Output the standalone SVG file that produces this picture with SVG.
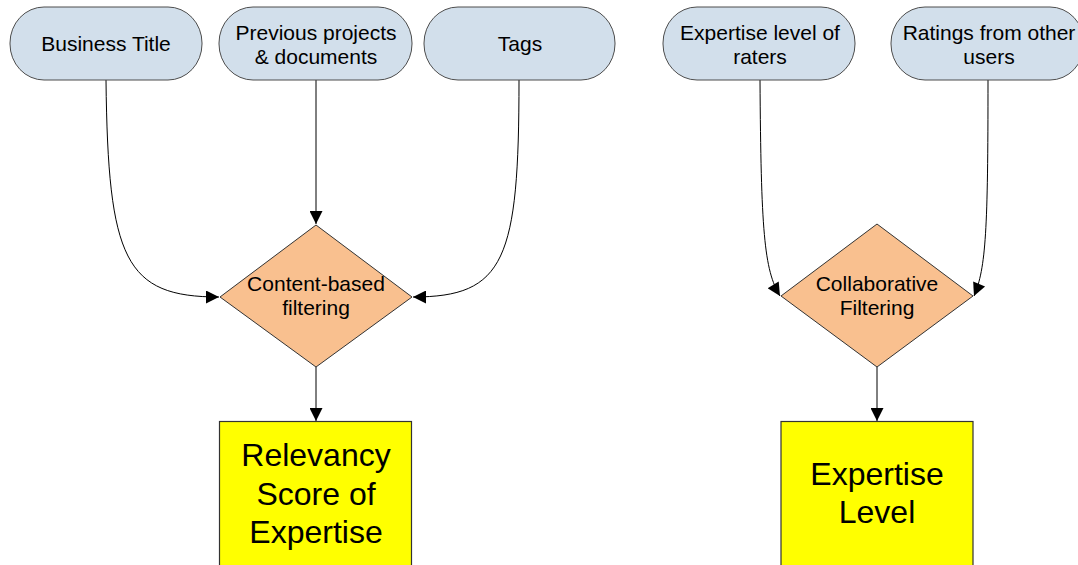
<svg xmlns="http://www.w3.org/2000/svg" width="1078" height="565" viewBox="0 0 1078 565">
<style>
.term{fill:#d2dfeb;stroke:#4d4d4d;stroke-width:1}
.dec{fill:#f9c08f;stroke:#333;stroke-width:1}
.out{fill:#ffff00;stroke:#333;stroke-width:1.2}
.t{font-family:"Liberation Sans",Arial,sans-serif;font-size:21px;fill:#000;text-anchor:middle}
.big{font-family:"Liberation Sans",Arial,sans-serif;font-size:32px;fill:#000;text-anchor:middle}
.c{fill:none;stroke:#000;stroke-width:1}
</style>
<defs>
<marker id="ah" viewBox="0 0 10 10" refX="10" refY="5" markerWidth="16" markerHeight="13" markerUnits="userSpaceOnUse" orient="auto">
<path d="M0,0 L10,5 L0,10 Z" fill="#000"/>
</marker>
</defs>
<rect width="1078" height="565" fill="#fff"/>
<g id="connectors">
<path class="c" d="M106,80 C108,260 125,297 219,297" marker-end="url(#ah)"/>
<path class="c" d="M316,80 L316,224" marker-end="url(#ah)"/>
<path class="c" d="M519,80 C519,260 505,297 413,297" marker-end="url(#ah)"/>
<path class="c" d="M760,80 C761,230 764,270 780,296" marker-end="url(#ah)"/>
<path class="c" d="M988,80 C988,230 986,268 974,296" marker-end="url(#ah)"/>
<path class="c" d="M316,367 L316,421" marker-end="url(#ah)"/>
<path class="c" d="M877,367 L877,421" marker-end="url(#ah)"/>
</g>
<g id="business-title">
<rect class="term" x="10" y="7" width="192" height="73" rx="34" ry="36"/>
<text class="t" x="106" y="51">Business Title</text>
</g>
<g id="previous-projects">
<rect class="term" x="219" y="7" width="193" height="73" rx="34" ry="36"/>
<text class="t" x="316" y="40">Previous projects</text>
<text class="t" x="316" y="64">&amp; documents</text>
</g>
<g id="tags">
<rect class="term" x="424" y="7" width="191" height="73" rx="34" ry="36"/>
<text class="t" x="520" y="51">Tags</text>
</g>
<g id="expertise-raters">
<rect class="term" x="663" y="7" width="192" height="73" rx="34" ry="36"/>
<text class="t" x="760" y="40">Expertise level of</text>
<text class="t" x="760" y="64">raters</text>
</g>
<g id="ratings">
<rect class="term" x="891" y="7" width="193" height="73" rx="34" ry="36"/>
<text class="t" x="989" y="40">Ratings from other</text>
<text class="t" x="989" y="64">users</text>
</g>
<g id="content-based">
<polygon class="dec" points="316,225 412,297 316,367 220,297"/>
<text class="t" x="316" y="291">Content-based</text>
<text class="t" x="316" y="315">filtering</text>
</g>
<g id="collaborative">
<polygon class="dec" points="877,224 973,296 877,367 781,296"/>
<text class="t" x="877" y="291">Collaborative</text>
<text class="t" x="877" y="315">Filtering</text>
</g>
<g id="relevancy">
<rect class="out" x="219.5" y="421.5" width="192" height="150"/>
<text class="big" x="316" y="466">Relevancy</text>
<text class="big" x="316" y="505">Score of</text>
<text class="big" x="316" y="543">Expertise</text>
</g>
<g id="expertise-level">
<rect class="out" x="781" y="421.5" width="192" height="150"/>
<text class="big" x="877" y="485">Expertise</text>
<text class="big" x="877" y="523">Level</text>
</g>
</svg>
